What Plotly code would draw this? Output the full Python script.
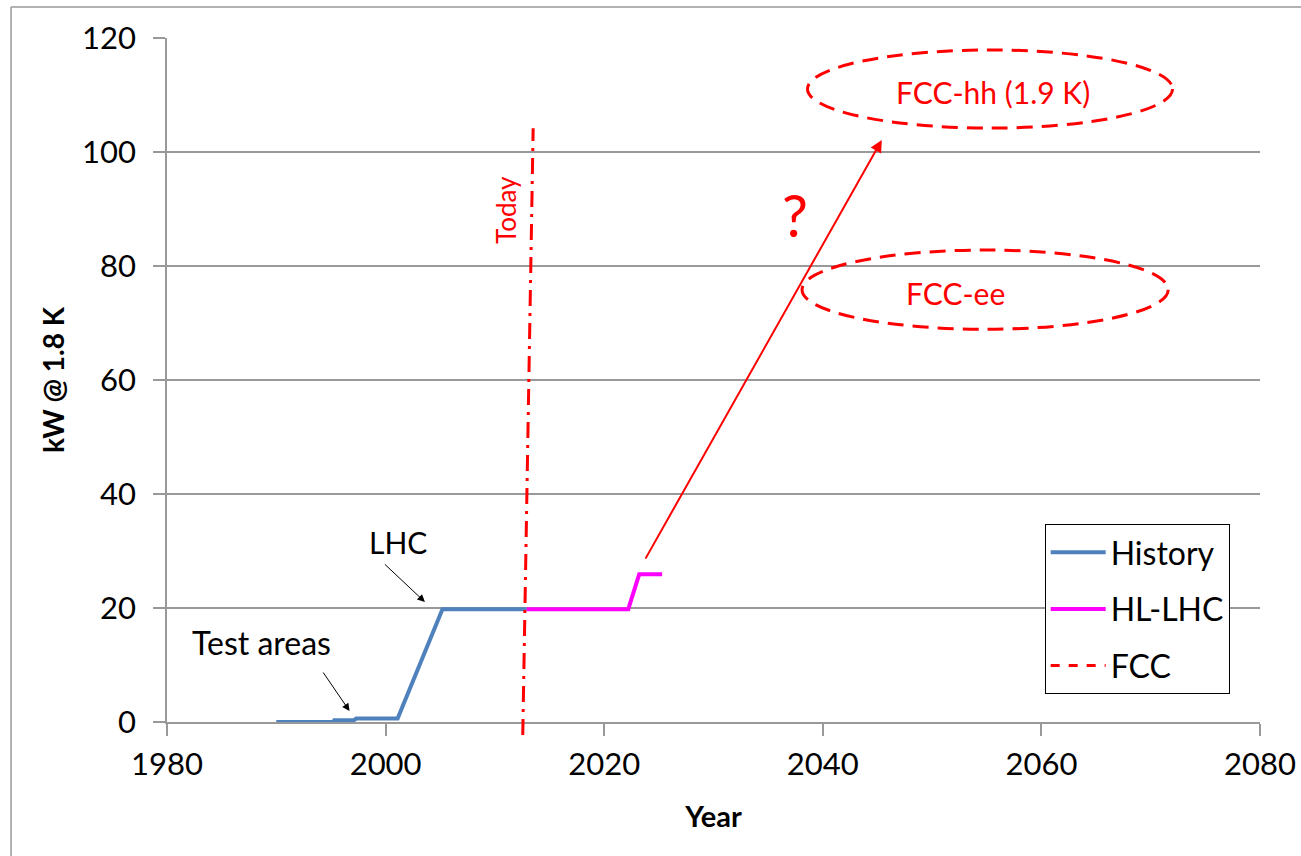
import plotly.graph_objects as go

# ---- data ----
hist_x = [1990, 1995.2, 1995.3, 1997.1, 1997.3, 2001.1, 2005.2, 2012.9]
hist_y = [0, 0, 0.3, 0.3, 0.6, 0.6, 19.8, 19.8]
hl_x = [2012.9, 2022.2, 2023.2, 2025.3]
hl_y = [19.8, 19.8, 25.9, 25.9]
fcc_x = [None]
fcc_y = [None]
x_ticks = [1980, 2000, 2020, 2040, 2060, 2080]
y_ticks = [0, 20, 40, 60, 80, 100, 120]

FONT = "Lato"
RED = "#FF0000"

fig = go.Figure()
fig.add_trace(go.Scatter(x=hist_x, y=hist_y, mode="lines", name="History",
                         line=dict(color="#4F81BD", width=4), legendgroup="a"))
fig.add_trace(go.Scatter(x=hl_x, y=hl_y, mode="lines", name="HL-LHC",
                         line=dict(color="#FF00FF", width=4), legendgroup="b"))
fig.add_trace(go.Scatter(x=fcc_x, y=fcc_y, mode="lines", name="FCC",
                         line=dict(color=RED, width=3, dash="dash"), legendgroup="c"))

# frame of slide
fig.add_shape(type="line", xref="paper", yref="paper", x0=-0.1427, x1=-0.1427,
              y0=-0.3, y1=1.0453, line=dict(color="#999999", width=1.5))
fig.add_shape(type="line", xref="paper", yref="paper", x0=-0.1427, x1=1.1,
              y0=1.0453, y1=1.0453, line=dict(color="#999999", width=1.5))

# Today line (slightly tilted)
fig.add_shape(type="line", xref="x", yref="paper", x0=2012.55, x1=2013.5,
              y0=-0.019, y1=0.868,
              line=dict(color=RED, width=3, dash="16px,7px,3px,7px"))

# ellipses
fig.add_shape(type="circle", xref="x", yref="y", x0=2038.6, x1=2072.0,
              y0=104.2, y1=117.9, line=dict(color=RED, width=3, dash="16px,9px"))
fig.add_shape(type="circle", xref="x", yref="y", x0=2038.1, x1=2071.6,
              y0=68.9, y1=82.8, line=dict(color=RED, width=3, dash="16px,9px"))

ann = []
ann.append(dict(x=2055.6, y=110.6, text="FCC-hh (1.9 K)", showarrow=False,
                font=dict(family=FONT, size=30, color=RED)))
ann.append(dict(x=2052.1, y=75.3, text="FCC-ee", showarrow=False,
                font=dict(family=FONT, size=30, color=RED)))
ann.append(dict(x=2037.5, y=89.0, text="?", showarrow=False,
                font=dict(family=FONT, size=58, color=RED)))
ann.append(dict(x=2011.0, y=89.8, text="Today", showarrow=False, textangle=-90,
                font=dict(family=FONT, size=26, color=RED)))
ann.append(dict(x=2045.4, y=102.1, ax=2023.7, ay=28.4, axref="x", ayref="y",
                text="", showarrow=True, arrowhead=2, arrowsize=1.2,
                arrowwidth=2, arrowcolor=RED))
ann.append(dict(x=2001.1, y=31.6, text="LHC", showarrow=False,
                font=dict(family=FONT, size=30, color="black")))
ann.append(dict(x=2003.6, y=21.05, ax=1999.8, ay=27.9, axref="x", ayref="y",
                text="", showarrow=True, arrowhead=2, arrowsize=1.5,
                arrowwidth=1, arrowcolor="black"))
ann.append(dict(x=1988.6, y=13.9, text="Test areas", showarrow=False,
                font=dict(family=FONT, size=32, color="black")))
ann.append(dict(x=1996.7, y=1.93, ax=1994.2, ay=8.95, axref="x", ayref="y",
                text="", showarrow=True, arrowhead=2, arrowsize=1.5,
                arrowwidth=1, arrowcolor="black"))

fig.update_layout(
    width=1301, height=856,
    margin=dict(l=167, r=41, t=38, b=134, autoexpand=False),
    paper_bgcolor="white", plot_bgcolor="white",
    font=dict(family=FONT, size=30, color="black"),
    annotations=ann,
    showlegend=True,
    legend=dict(x=0.803, y=0.2895, xanchor="left", yanchor="top",
                bgcolor="white", bordercolor="black", borderwidth=1,
                font=dict(family=FONT, size=32, color="black"),
                itemwidth=55,
                traceorder="grouped", tracegroupgap=12),
    xaxis=dict(range=[1980, 2080], tickvals=x_ticks, showgrid=False,
               showline=True, linecolor="#999999", linewidth=1.5,
               ticks="outside", ticklen=12, tickcolor="#999999", tickwidth=1.5,
               ticklabelstandoff=2, zeroline=False, automargin=False,
               tickfont=dict(family=FONT, size=31, color="black"),
               title=dict(text="<b>Year</b>", standoff=26,
                          font=dict(family=FONT, size=29, color="black"))),
    yaxis=dict(range=[0, 120], tickvals=y_ticks, showgrid=True,
               gridcolor="#999999", gridwidth=1.5,
               showline=True, linecolor="#999999", linewidth=1.5,
               ticks="outside", ticklen=12, tickcolor="#999999", tickwidth=1.5,
               ticklabelstandoff=11, zeroline=False, automargin=False,
               tickfont=dict(family=FONT, size=31, color="black"),
               title=dict(text="<b>kW @ 1.8 K</b>", standoff=9,
                          font=dict(family=FONT, size=28, color="black"))),
)

fig.write_html("out.html")
